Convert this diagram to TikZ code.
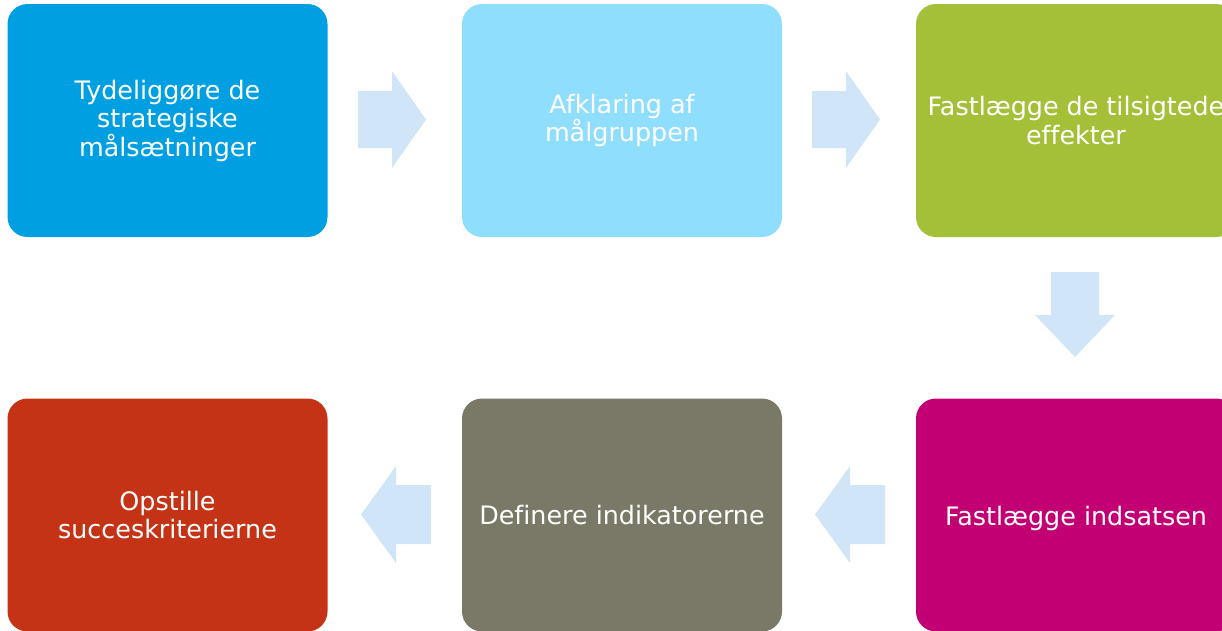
\documentclass[tikz,border=0pt]{standalone}
\usepackage{fontspec}
\setmainfont[Ligatures=NoCommon]{DejaVu Sans}
\definecolor{cA}{HTML}{009FE1}
\definecolor{cB}{HTML}{8FDEFD}
\definecolor{cC}{HTML}{A3C038}
\definecolor{cD}{HTML}{C53316}
\definecolor{cE}{HTML}{7A7866}
\definecolor{cF}{HTML}{C20074}
\definecolor{arr}{HTML}{D0E6F8}
\tikzset{
  stepbox/.style={rounded corners=20pt, minimum width=320pt, minimum height=233pt,
    inner sep=0pt, text=white, align=center,
    font=\fontsize{25.4pt}{28.5pt}\selectfont},
  arrowfill/.style={fill=arr, draw=none}
}
\begin{document}
\begin{tikzpicture}[x=1pt,y=-1pt]
\useasboundingbox (0,0) rectangle (1222,630);
\node[stepbox, fill=cA] (b1) at (167.5,120.5) {Tydeliggøre de\\strategiske\\målsætninger};
\node[stepbox, fill=cB] (b2) at (622,120.5) {Afklaring af\\målgruppen};
\node[stepbox, fill=cC] (b3) at (1076,120.5) {Fastlægge de tilsigtede\\effekter};
\node[stepbox, fill=cF] (b6) at (1076,515) {};
\node[text=white, font=\fontsize{25.4pt}{28.5pt}\selectfont] (t6) at (1076,518) {Fastlægge indsatsen};
\node[stepbox, fill=cE] (b5) at (622,515) {Definere indikatorerne};
\node[stepbox, fill=cD] (b4) at (167.5,515) {Opstille\\succeskriterierne};
% right arrows
\fill[arrowfill] (358,91) -- (392,91) -- (392,71) -- (426,119.5) -- (392,168) -- (392,148) -- (358,148) -- cycle;
\fill[arrowfill] (812,91) -- (846,91) -- (846,71) -- (880,119.5) -- (846,168) -- (846,148) -- (812,148) -- cycle;
% down arrow
\fill[arrowfill] (1051,272) -- (1099,272) -- (1099,315) -- (1115,315) -- (1075,357) -- (1035,315) -- (1051,315) -- cycle;
% left arrows
\fill[arrowfill] (431,485) -- (396,485) -- (396,466) -- (361,514.5) -- (396,563) -- (396,544) -- (431,544) -- cycle;
\fill[arrowfill] (885,485) -- (850,485) -- (850,466) -- (815,514.5) -- (850,563) -- (850,544) -- (885,544) -- cycle;
\end{tikzpicture}
\end{document}
